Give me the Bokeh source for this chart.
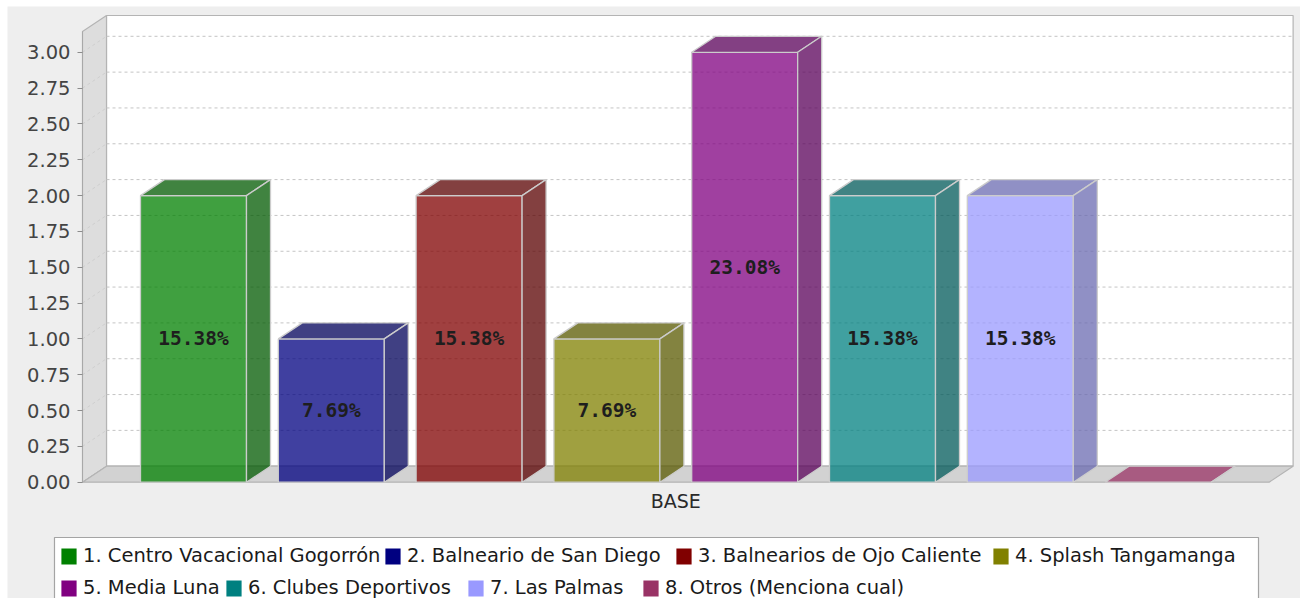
from bokeh.plotting import figure
from bokeh.models import (Range1d, FixedTicker, NumeralTickFormatter, Legend, LegendItem,
                          ColumnDataSource)
from bokeh.embed import file_html
from bokeh.resources import INLINE
from bokeh.core.properties import value

# ---------------- data ----------------
categories = ["1. Centro Vacacional Gogorrón", "2. Balneario de San Diego",
              "3. Balnearios de Ojo Caliente", "4. Splash Tangamanga",
              "5. Media Luna", "6. Clubes Deportivos", "7. Las Palmas",
              "8. Otros (Menciona cual)"]
counts = [2, 1, 2, 1, 3, 2, 2, 0]
colors = ["#008000", "#000080", "#800000", "#808000",
          "#800080", "#008080", "#9999ff", "#993366"]
category_label = "BASE"
y_ticks = [0, 0.25, 0.5, 0.75, 1.0, 1.25, 1.5, 1.75, 2.0, 2.25, 2.5, 2.75, 3.0]

# ---------------- geometry / style ----------------
W, H = 1300, 598
PXU, X0PX = 137.8, 193.0     # pixels per category slot, page x of slot 0
PYU, Y0PX = 143.3, 481.7     # pixels per value unit, page y of value 0

def px2x(px):
    return (px - X0PX) / PXU

def py2y(py):
    return (Y0PX - py) / PYU

FONT = "DejaVu Sans"
BAR_W = 106 / PXU                       # bar width in slots
X_LO, X_HI = px2x(82), 7 - px2x(82)     # front category axis extent
DX, DY = 24 / PXU, 16 / PYU             # 3D depth offset
Y_TOP = py2y(31)                        # front top of value axis
EDGE = "#cccccc"
WALL_EDGE = "#b4b4b4"
GRID = "#c4c4c4"
BG = "#eeeeee"

def darker(h):
    h = h.lstrip("#")
    r, g, b = (int(h[i:i + 2], 16) for i in (0, 2, 4))
    return "#%02x%02x%02x" % (int(r * 0.7), int(g * 0.7), int(b * 0.7))

total = sum(counts)
n = len(counts)
xs_c = list(range(n))
left = [x - BAR_W / 2 for x in xs_c]
right = [x + BAR_W / 2 for x in xs_c]
dark = [darker(c) for c in colors]
top_col = [c if v == 0 else d for c, d, v in zip(colors, dark, counts)]

p = figure(width=W, height=H, output_backend="svg", toolbar_location=None,
           x_range=Range1d(px2x(0), px2x(W)), y_range=Range1d(py2y(H), py2y(0)),
           min_border_left=0, min_border_right=0, min_border_top=0, min_border_bottom=0,
           background_fill_color="white", border_fill_color="white", outline_line_color=None)
p.grid.visible = False

# chart background
p.quad(left=px2x(7), right=px2x(W + 20), bottom=py2y(H + 20), top=py2y(6),
       fill_color=BG, line_color=None)

# walls
p.quad(left=X_LO + DX, right=X_HI + DX, bottom=DY, top=Y_TOP + DY,
       fill_color="white", line_color=WALL_EDGE, line_width=1.2)
p.patch([X_LO, X_LO + DX, X_LO + DX, X_LO], [0, DY, Y_TOP + DY, Y_TOP],
        fill_color="#dddddd", line_color=WALL_EDGE, line_width=1.2)
p.patch([X_LO, X_HI, X_HI + DX, X_LO + DX], [0, 0, DY, DY],
        fill_color="#d2d2d2", line_color=WALL_EDGE, line_width=1.2)

# gridlines (back wall + left wall diagonals)
gt = y_ticks[1:]
p.segment(x0=[X_LO + DX] * len(gt), x1=[X_HI + DX] * len(gt),
          y0=[t + DY for t in gt], y1=[t + DY for t in gt],
          line_color=GRID, line_dash="3 3", line_width=1)
p.segment(x0=[X_LO] * len(gt), x1=[X_LO + DX] * len(gt),
          y0=gt, y1=[t + DY for t in gt],
          line_color="#c8c8c8", line_dash="3 3", line_width=1, line_alpha=0.7)

# bars
src = ColumnDataSource(dict(left=left, right=right, top=counts, bottom=[0] * n, color=colors))
p.quad(left="left", right="right", bottom="bottom", top="top", source=src,
       fill_color="color", fill_alpha=0.75, line_color=EDGE, line_width=1.3)
top_xs = [[l, r, r + DX, l + DX] for l, r in zip(left, right)]
top_ys = [[v, v, v + DY, v + DY] for v in counts]
p.patches(top_xs, top_ys, fill_color=top_col, fill_alpha=0.75, line_color=EDGE, line_width=1.3)
side_xs = [[r, r + DX, r + DX, r] for r in right]
side_ys = [[0, DY, v + DY, v] for v in counts]
p.patches(side_xs, side_ys, fill_color=dark, fill_alpha=0.75, line_color=EDGE, line_width=1.3)

# percentage labels
lab_x = [x for x, v in zip(xs_c, counts) if v > 0]
lab_y = [v / 2 for v in counts if v > 0]
lab_t = ["%.2f%%" % (v / total * 100) for v in counts if v > 0]
p.text(x=lab_x, y=lab_y, text=lab_t, text_align="center", text_baseline="middle",
       text_font=value("DejaVu Sans Mono"), text_font_style="bold",
       text_font_size="19.5px", text_color="#1e1e1e")

# axes (drawn at the front edges of the 3D box)
ya = p.yaxis[0]
ya.fixed_location = X_LO
ya.ticker = FixedTicker(ticks=y_ticks)
ya.formatter = NumeralTickFormatter(format="0.00")
ya.bounds = (0, Y_TOP)
ya.axis_line_color = "#a8a8a8"
ya.major_tick_line_color = "#8c8c8c"
ya.major_tick_out = 5
ya.major_tick_in = 0
ya.minor_tick_line_color = None
ya.major_label_standoff = 7
ya.major_label_text_font = FONT
ya.major_label_text_font_size = "19.5px"
ya.major_label_text_color = "#444444"

xa = p.xaxis[0]
xc = (X_LO + X_HI) / 2
xa.fixed_location = 0
xa.ticker = FixedTicker(ticks=[xc])
xa.major_label_overrides = {xc: category_label}
xa.axis_line_color = None
xa.major_tick_line_color = None
xa.minor_tick_line_color = None
xa.major_label_standoff = 2
xa.major_label_text_font = FONT
xa.major_label_text_font_size = "19px"
xa.major_label_text_color = "#2a2a2a"

# ---------------- legend ----------------
p.quad(left=px2x(54), right=px2x(1258), top=py2y(537), bottom=py2y(H + 40),
       fill_color="white", line_color="#a4a4a4", line_width=1.2)

# swatch renderers: zero-size quads at each bar's base (invisible), used for legend glyphs
swatches = [p.quad(left=[x], right=[x], bottom=[0], top=[0], fill_color=c, line_color=None)
            for x, c in zip(xs_c, colors)]

GW, GH = 19, 20             # legend glyph box (area glyph drawn with 10% inset)
leg_x = [61, 385, 676, 993, 61, 226, 468, 643]   # swatch left edges (page px)
leg_row = [0, 0, 0, 0, 1, 1, 1, 1]
row_vy = [H - 567.2, H - 599.2]
for cat, r, px, row in zip(categories, swatches, leg_x, leg_row):
    lg = Legend(items=[LegendItem(label=cat, renderers=[r])],
                location=(px - 2, row_vy[row]),
                padding=0, margin=0, spacing=0, label_standoff=5,
                glyph_width=GW, glyph_height=GH, label_height=16,
                border_line_color=None, background_fill_alpha=0,
                label_text_font=FONT, label_text_font_size="19.5px",
                label_text_color="#1a1a1a")
    p.add_layout(lg)

open("out.html", "w").write(file_html(p, INLINE))
